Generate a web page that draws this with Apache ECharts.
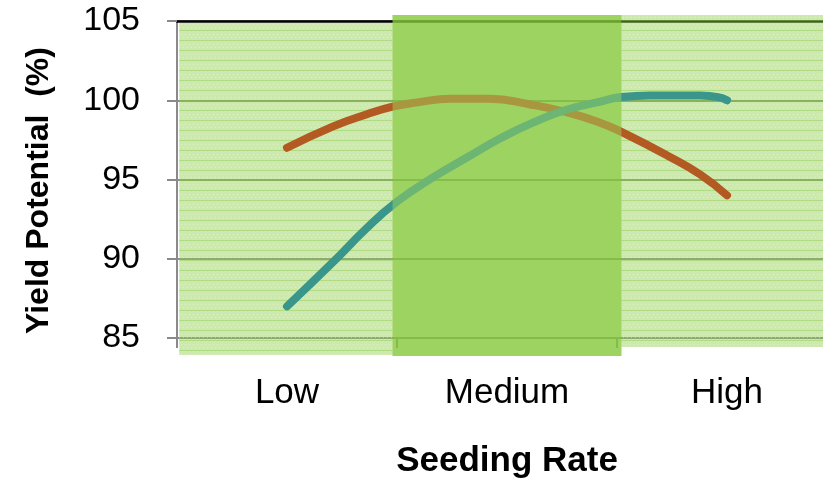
<!DOCTYPE html>
<html>
<head>
<meta charset="utf-8">
<title>Yield Potential vs Seeding Rate</title>
<script src="https://cdn.jsdelivr.net/npm/echarts@6/dist/echarts.min.js"></script>
<style>
  html, body { margin: 0; padding: 0; background: #ffffff; }
  #chart { width: 823px; height: 484px; }
</style>
</head>
<body>
<div id="chart"></div>
<script>
// Seeding-rate categories along the bottom axis
const categories = ['Low', 'Medium', 'High'];

// Yield potential axis range (%)
const yMin = 85;
const yMax = 105;
const yStep = 5;

// Curve 1 (orange): peaks around the medium rate
const seriesOneX = [0.50, 0.71, 0.86, 0.98, 1.10, 1.24, 1.42, 1.60, 1.77, 1.92, 2.02, 2.23, 2.38, 2.50];
const seriesOneY = [97.0, 98.35, 99.1, 99.6, 99.88, 100.1, 100.1, 99.75, 99.25, 98.6, 98.0, 96.5, 95.3, 94.0];

// Curve 2 (teal): keeps rising until the high rate
const seriesTwoX = [0.50, 0.71, 0.86, 1.00, 1.16, 1.32, 1.47, 1.62, 1.77, 1.92, 2.02, 2.15, 2.38, 2.46, 2.50];
const seriesTwoY = [87.0, 89.8, 91.9, 93.6, 95.1, 96.4, 97.6, 98.6, 99.4, 99.9, 100.2, 100.3, 100.3, 100.2, 100.0];

// Shaded rate zones: [start, end] on the rate scale, [top, bottom] in %
const zoneStart  = [0.01, 0.98, 2.02];
const zoneEnd    = [0.98, 2.02, 3.00];
const zoneTop    = [104.87, 105.38, 105.38];
const zoneBottom = [83.93, 83.86, 84.43];

const FONT = "'Liberation Sans', Arial, Helvetica, sans-serif";

function pairs(xs, ys) {
  return xs.map((x, i) => [x, ys[i]]);
}

// Fine dotted/striped fill used for the outer zones
function makeTexture() {
  const c = document.createElement('canvas');
  c.width = 4; c.height = 10;
  const g = c.getContext('2d');
  g.fillStyle = 'rgba(146, 208, 80, 0.46)';
  g.fillRect(0, 0, 4, 10);
  g.fillStyle = 'rgba(120, 196, 50, 0.35)';
  g.fillRect(0, 0, 4, 1);
  g.fillStyle = 'rgba(255, 255, 255, 0.35)';
  g.fillRect(1, 4, 1, 1);
  g.fillRect(3, 7, 1, 1);
  return c;
}
const texture = makeTexture();

function zoneData(indices) {
  return indices.map(i => [zoneStart[i], zoneEnd[i], zoneTop[i], zoneBottom[i]]);
}

function renderZone(fill) {
  return function (params, api) {
    const p0 = api.coord([api.value(0), api.value(2)]);
    const p1 = api.coord([api.value(1), api.value(3)]);
    return {
      type: 'rect',
      shape: { x: p0[0], y: p0[1], width: p1[0] - p0[0], height: p1[1] - p0[1] },
      style: { fill: fill }
    };
  };
}

function zoneSeries(name, indices, fill, z) {
  return {
    name: name,
    type: 'custom',
    xAxisIndex: 1,
    yAxisIndex: 0,
    clip: false,
    silent: true,
    z: z,
    encode: { x: [0, 1], y: [2, 3] },
    renderItem: renderZone(fill),
    data: zoneData(indices)
  };
}

function curveSeries(name, xs, ys, color) {
  return {
    name: name,
    type: 'line',
    xAxisIndex: 1,
    yAxisIndex: 0,
    z: 2,
    smooth: true,
    showSymbol: false,
    lineStyle: { color: color, width: 8, cap: 'round', join: 'round' },
    data: pairs(xs, ys)
  };
}

const chart = echarts.init(document.getElementById('chart'), null, { renderer: 'canvas' });

const option = {
  animation: false,
  backgroundColor: '#ffffff',
  grid: { left: 177, top: 21, width: 660, height: 317, containLabel: false, outerBoundsMode: 'none' },
  xAxis: [
    {
      type: 'category',
      data: categories,
      boundaryGap: true,
      position: 'bottom',
      axisLine: { show: true, lineStyle: { color: '#8a8a8a', width: 2 } },
      axisTick: { show: true, length: 10, inside: false, lineStyle: { color: '#8a8a8a', width: 2 } },
      axisLabel: { color: '#000000', fontSize: 35, fontFamily: FONT, margin: 38 },
      splitLine: { show: false },
      name: 'Seeding Rate',
      nameLocation: 'middle',
      nameGap: 106,
      nameTextStyle: { color: '#000000', fontSize: 35, fontWeight: 'bold', fontFamily: FONT }
    },
    {
      // continuous rate scale used by the curves and zones; its line closes the top of the plot
      type: 'value',
      min: 0,
      max: 3,
      position: 'top',
      axisLine: { show: true, onZero: false, lineStyle: { color: '#000000', width: 2.5 } },
      axisTick: { show: false },
      axisLabel: { show: false },
      splitLine: { show: false }
    }
  ],
  yAxis: {
    type: 'value',
    min: yMin,
    max: yMax,
    interval: yStep,
    axisLine: { show: true, lineStyle: { color: '#8a8a8a', width: 2 } },
    axisTick: { show: true, length: 10, inside: false, lineStyle: { color: '#8a8a8a', width: 2 } },
    axisLabel: { color: '#000000', fontSize: 34, fontFamily: FONT, margin: 37 },
    splitLine: { show: true, lineStyle: { color: '#8c8c8c', width: 2 } },
    name: 'Yield Potential  (%)',
    nameLocation: 'middle',
    nameGap: 122,
    nameRotate: 90,
    nameTextStyle: { color: '#000000', fontSize: 32, fontWeight: 'bold', fontFamily: FONT, padding: [0, 22, 0, 0] }
  },
  series: [
    // outer zones and the base of the medium zone sit under the curves
    zoneSeries('Outer zones', [0, 2], { image: texture, repeat: 'repeat' }, 1),
    zoneSeries('Medium zone base', [1], 'rgba(90, 183, 0, 0.6)', 1),
    curveSeries('Series 1', seriesOneX, seriesOneY, '#b35a22'),
    curveSeries('Series 2', seriesTwoX, seriesTwoY, '#3a968a'),
    // translucent veil over the curves inside the medium zone
    zoneSeries('Medium zone veil', [1], 'rgba(157, 212, 92, 0.5)', 3)
  ]
};

chart.setOption(option);
</script>
</body>
</html>
